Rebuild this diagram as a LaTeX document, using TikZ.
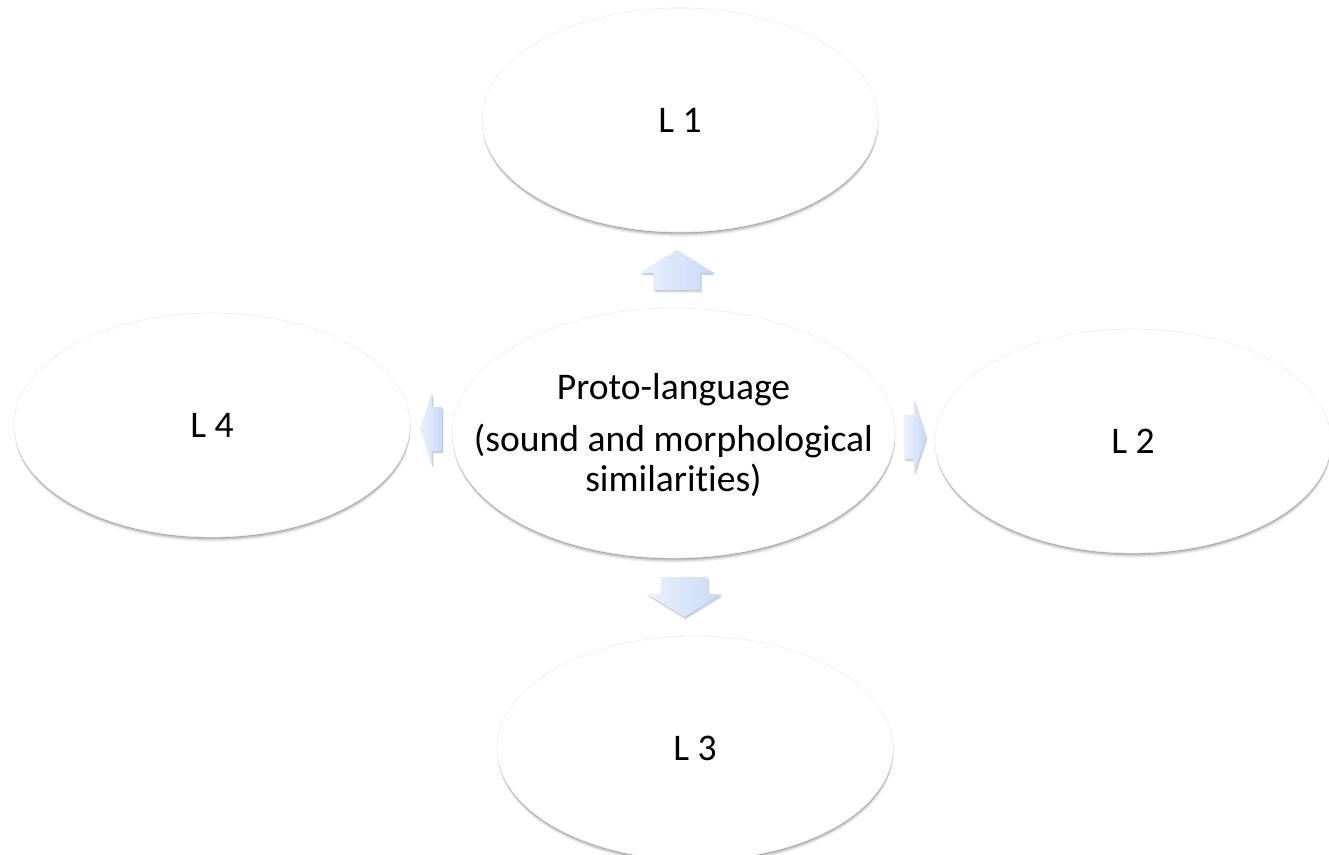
\documentclass[tikz,border=0pt]{standalone}
\usepackage{fontspec}
\setmainfont{Carlito}[Ligatures=NoCommon]
\usetikzlibrary{shapes.geometric,calc}

\definecolor{arrowlight}{HTML}{EAF1FD}
\definecolor{arrowdark}{HTML}{C9DAF6}
\definecolor{rimgray}{HTML}{EFEFEF}

\tikzset{
  % soft shadow falling below a shape, built from stacked shifted copies
  dropshade/.style={
    preaction={fill=black, opacity=0.05, transform canvas={xshift=0.4pt,yshift=-3.6pt}},
    preaction={fill=black, opacity=0.08, transform canvas={xshift=0.3pt,yshift=-2.7pt}},
    preaction={fill=black, opacity=0.12, transform canvas={xshift=0.2pt,yshift=-1.8pt}},
    preaction={fill=black, opacity=0.14, transform canvas={xshift=0.1pt,yshift=-0.9pt}}},
  bubble/.style={ellipse, dropshade, fill=white, draw=rimgray, line width=0.5pt,
    inner sep=0pt, minimum width=297pt, minimum height=168pt},
  hub/.style={bubble, minimum width=332pt, minimum height=187.5pt},
  tagtext/.style={font=\fontsize{28.2pt}{30pt}\selectfont, inner sep=0pt},
  arrowfill/.style={
    preaction={fill=black, opacity=0.10, transform canvas={xshift=1.2pt,yshift=-2pt}},
    preaction={fill=black, opacity=0.12, transform canvas={xshift=0.6pt,yshift=-1pt}},
    left color=arrowlight, right color=arrowdark},
  % block arrow pointing along +x, centred on the pic origin
  longarrow/.pic={\path[arrowfill] (-20,-23.5) -- (-3,-23.5) -- (-3,-37.5) -- (20,0)
                   -- (-3,37.5) -- (-3,23.5) -- (-20,23.5) -- cycle;},
  shortarrow/.pic={\path[arrowfill] (-11,-22) -- (-1,-22) -- (-1,-37) -- (11,0)
                   -- (-1,37) -- (-1,22) -- (-11,22) -- cycle;}
}

\begin{document}
\begin{tikzpicture}[x=0.75pt,y=-0.75pt]
  \useasboundingbox (0,0) rectangle (1329,855);
  \fill[white] (0,0) rectangle (1329,855);

  % language bubbles
  \node[hub]    (hub) at (673.5,433) {};
  \node[bubble] (l1)  at (680,120)   {};
  \node[bubble] (l2)  at (1133,441)  {};
  \node[bubble] (l3)  at (695,748)   {};
  \node[bubble] (l4)  at (212,425)   {};

  % block arrows from the proto-language to its daughters
  \pic[rotate=90]  at ($(hub.north)!0.5!(l1.south)$) {longarrow};
  \pic[rotate=-90] at ($(hub.south)!0.5!(l3.north)$) {longarrow};
  \pic[rotate=180] at ($(hub.west)!0.5!(l4.east)$)   {shortarrow};
  \pic             at ($(hub.east)!0.5!(l2.west)$)   {shortarrow};

  % labels
  \node[tagtext] (t1) at (l1) {L 1};
  \node[tagtext] (t2) at (l2) {L 2};
  \node[tagtext] (t3) at (l3) {L 3};
  \node[tagtext] (t4) at (l4) {L 4};
  \node[tagtext, anchor=base] (h1) at ($(hub.center)+(0,-33)$) {Proto-language};
  \node[tagtext, anchor=base] (h2) at ($(hub.center)+(0,19)$)  {(sound and morphological};
  \node[tagtext, anchor=base] (h3) at ($(hub.center)+(0,59)$)  {similarities)};
\end{tikzpicture}
\end{document}
